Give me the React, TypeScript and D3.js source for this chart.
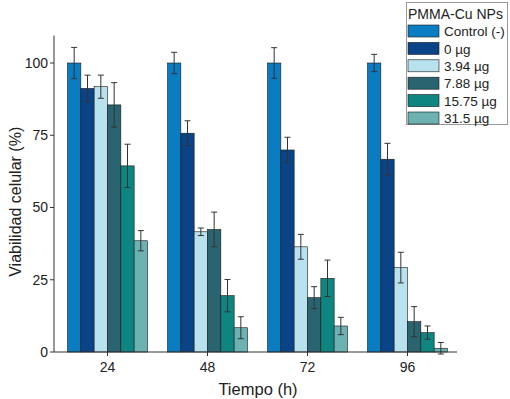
import React from "react";
import * as d3 from "d3";

const times = ["24", "48", "72", "96"];
const groups = ["Control (-)", "0 µg", "3.94 µg", "7.88 µg", "15.75 µg", "31.5 µg"];
const colors = ["#0a7cc2", "#0b4387", "#b9e2ef", "#2a6470", "#0e8580", "#6cb2b2"];

// viability (%) per time point, one array per group
const means = [
  [100, 100, 100, 100],
  [91.2, 75.7, 69.9, 66.7],
  [91.8, 41.6, 36.4, 29.2],
  [85.5, 42.4, 18.8, 10.5],
  [64.4, 19.5, 25.5, 6.7],
  [38.5, 8.4, 9.0, 1.3],
];
const errors = [
  [5.4, 3.7, 5.3, 3.0],
  [4.6, 4.3, 4.4, 5.5],
  [4.0, 1.3, 4.3, 5.3],
  [7.7, 6.0, 3.8, 5.2],
  [7.5, 5.6, 6.3, 2.3],
  [3.5, 3.8, 3.0, 2.0],
];
const yTicks = [0, 25, 50, 75, 100];

const W = 510;
const H = 399;
const font = "'Liberation Sans', Arial, sans-serif";

export default function App() {
  const x = d3.scaleBand<string>().domain(times).range([57.5, 457.5]).paddingInner(0.2).paddingOuter(0.1);
  const xi = d3.scaleBand<string>().domain(groups).range([0, x.bandwidth()]);
  const y = d3.scaleLinear().domain([0, 100]).range([352, 63]);
  const yTop = y(109.5);

  return (
    <svg width={W} height={H} style={{ position: "absolute", left: 0, top: 0 }} fontFamily={font}>
      <rect width={W} height={H} fill="white" />
      {/* bars */}
      {groups.map((g, gi) =>
        times.map((t, ti) => {
          const v = means[gi][ti];
          const e = errors[gi][ti];
          const bx = (x(t) as number) + (xi(g) as number);
          const cx = bx + xi.bandwidth() / 2;
          return (
            <g key={g + t}>
              <rect x={bx} y={y(v)} width={xi.bandwidth()} height={y(0) - y(v)} fill={colors[gi]} stroke="#1a1a1a" strokeWidth={0.6} />
              <line x1={cx} x2={cx} y1={y(v + e)} y2={y(v - e)} stroke="#333" strokeWidth={1} />
              <line x1={cx - 3} x2={cx + 3} y1={y(v + e)} y2={y(v + e)} stroke="#333" strokeWidth={1} />
              <line x1={cx - 3} x2={cx + 3} y1={y(v - e)} y2={y(v - e)} stroke="#333" strokeWidth={1} />
            </g>
          );
        })
      )}
      {/* y axis */}
      <line x1={54} x2={54} y1={yTop} y2={y(0)} stroke="#333" strokeWidth={1} />
      {yTicks.map((t) => (
        <g key={t}>
          <line x1={50} x2={54} y1={y(t)} y2={y(t)} stroke="#333" />
          <text x={48} y={y(t)} dy="0.35em" textAnchor="end" fontSize={14} fill="#222">{t}</text>
        </g>
      ))}
      <text transform={`translate(21,${(yTop + y(0)) / 2 + 8}) rotate(-90)`} textAnchor="middle" fontSize={16} fill="#222">
        Viabilidad celular (%)
      </text>
      {/* x axis */}
      <line x1={54} x2={457} y1={y(0)} y2={y(0)} stroke="#333" strokeWidth={1} />
      {times.map((t) => {
        const cx = (x(t) as number) + x.bandwidth() / 2;
        return (
          <g key={t}>
            <line x1={cx} x2={cx} y1={y(0)} y2={y(0) + 4} stroke="#333" />
            <text x={cx} y={y(0) + 20} textAnchor="middle" fontSize={14} fill="#222">{t}</text>
          </g>
        );
      })}
      <text x={258} y={395} textAnchor="middle" fontSize={16.5} fill="#222">Tiempo (h)</text>
      {/* legend */}
      <g>
        <rect x={406.5} y={2.5} width={101} height={122} fill="white" stroke="#999" strokeWidth={1} />
        <text x={408} y={19} fontSize={14} fill="#222">PMMA-Cu NPs</text>
        {groups.map((g, i) => (
          <g key={g} transform={`translate(408,${25 + i * 17.4})`}>
            <rect width={31} height={12} fill={colors[i]} stroke="#1a1a1a" strokeWidth={0.6} />
            <text x={36} y={6} dy="0.38em" fontSize={13.5} fill="#222">{g}</text>
          </g>
        ))}
      </g>
    </svg>
  );
}
